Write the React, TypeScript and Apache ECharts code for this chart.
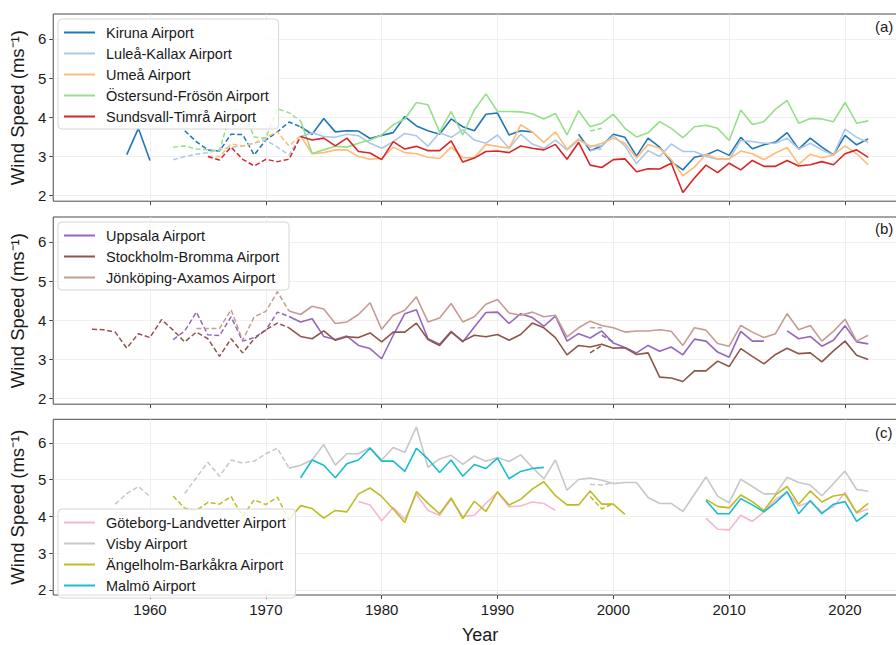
import React, { useEffect, useRef } from "react";
import * as echarts from "echarts";

type Seg = { from: number; v: (number | null)[] };

const YEAR_TICKS = [1960, 1970, 1980, 1990, 2000, 2010, 2020];
const SPEED_TICKS = [2, 3, 4, 5, 6];
const PANEL_LABELS = ["(a)", "(b)", "(c)"];

// ---------- Panel (a) ----------
const kirunaSolid: Seg[] = [
  { from: 1958, v: [3.05, 3.72, 2.9] },
  {
    from: 1973,
    v: [
      3.76, 3.57, 3.97, 3.63, 3.66, 3.65, 3.46, 3.54, 3.61, 4.02,
      3.78, 3.66, 3.57, 3.96, 3.76, 3.66, 4.08, 4.11, 3.55, 3.66,
      3.63, null, null, null, 3.57, 3.15, 3.27, 3.57, 3.49, 3.01,
      3.47, 3.24, 2.87, 2.66, 2.98, 3.04, 3.17, 3.03, 3.49, 3.2,
      3.3, 3.37, 3.61, 3.19, 3.47, 3.24, 3.04, 3.54, 3.3, 3.45,
    ],
  },
];
const kirunaDashed: Seg[] = [
  { from: 1963, v: [3.66, 3.38, 3.17, 3.14, 3.57, 3.56, 3.04, 3.42, 3.63, 3.88, 3.76] },
];

const luleaSolid: Seg[] = [
  {
    from: 1973,
    v: [
      3.51, 3.61, 3.51, 3.49, 3.57, 3.53, 3.34, 3.21, 3.38, 3.59,
      3.53, 3.26, 3.61, 3.49, 3.68, 3.42, 3.34, 3.55, 3.21, 3.57,
      3.32, 3.21, 3.42, 3.17, 3.42, 3.27, 3.27, 3.53, 3.27, 2.82,
      3.15, 3.0, 3.32, 3.13, 3.13, 3.0, 2.93, 2.93, 3.41, 3.38,
      3.34, 3.34, 3.47, 3.19, 3.34, 3.17, 3.04, 3.7, 3.49, 3.36,
    ],
  },
];
const luleaDashed: Seg[] = [
  { from: 1962, v: [2.92, 3.0, 3.06, 3.1, 3.17, 3.24, 3.27, 3.34, 3.42, 3.24, 3.04, 3.51] },
  { from: 1998, v: [3.15, 3.2] },
];

const umeaSolid: Seg[] = [
  {
    from: 1973,
    v: [
      3.53, 3.07, 3.1, 3.17, 3.17, 3.0, 2.93, 2.95, 3.24, 3.1,
      3.07, 2.98, 2.95, 3.24, 2.97, 2.97, 3.31, 3.26, 3.21, 3.81,
      3.63, 3.36, 3.63, 3.19, 3.45, 3.24, 3.34, 3.47, 3.34, 2.96,
      3.31, 3.21, 2.92, 2.51, 2.73, 3.06, 2.94, 2.94, 3.14, 3.07,
      2.92, 3.09, 3.23, 2.8, 3.06, 2.97, 3.04, 3.27, 3.07, 2.79,
    ],
  },
];
const umeaDashed: Seg[] = [
  { from: 1965, v: [3.0, 3.0, 3.32, 3.27, 3.34, 3.49, 3.63, 3.27, 3.53] },
];

const ostersundSolid: Seg[] = [
  {
    from: 1973,
    v: [
      3.91, 3.08, 3.17, 3.26, 3.24, 3.34, 3.42, 3.55, 3.81, 3.96,
      4.38, 4.32, 3.63, 4.15, 3.55, 4.19, 4.6, 4.15, 4.15, 4.14,
      4.09, 3.96, 4.1, 3.55, 4.17, 3.76, 3.85, 4.08, 3.72, 3.5,
      3.61, 3.89, 3.72, 3.48, 3.76, 3.8, 3.72, 3.41, 4.19, 3.82,
      3.89, 4.21, 4.43, 3.85, 3.97, 3.96, 3.89, 4.38, 3.85, 3.91,
    ],
  },
];
const ostersundDashed: Seg[] = [
  { from: 1962, v: [3.24, 3.27, 3.19, 3.17, 3.15, 4.17, 4.2, 3.5, 3.47, 4.22, 4.12, 3.91] },
  { from: 1998, v: [3.65, 3.72] },
];

const sundsvallSolid: Seg[] = [
  {
    from: 1973,
    v: [
      3.51, 3.42, 3.47, 3.27, 3.47, 3.13, 3.09, 2.92, 3.38, 3.19,
      3.26, 3.15, 3.15, 3.4, 2.86, 2.96, 3.13, 3.14, 3.1, 3.27,
      3.21, 3.17, 3.31, 2.93, 3.36, 2.78, 2.72, 2.92, 2.94, 2.61,
      2.69, 2.68, 2.83, 2.08, 2.45, 2.78, 2.59, 2.83, 2.66, 2.9,
      2.75, 2.75, 2.9, 2.76, 2.79, 2.87, 2.79, 3.07, 3.17, 2.98,
    ],
  },
];
const sundsvallDashed: Seg[] = [
  { from: 1965, v: [3.0, 2.91, 3.24, 2.93, 2.76, 2.93, 2.87, 2.93, 3.51] },
];

// ---------- Panel (b) ----------
const uppsalaSolid: Seg[] = [
  {
    from: 1972,
    v: [
      4.1, 3.96, 4.04, 3.59, 3.51, 3.6, 3.36, 3.28, 3.02, 3.62,
      4.17, 4.27, 3.53, 3.39, 3.72, 3.45, 3.83, 4.2, 4.21, 3.92,
      4.17, 4.07, 3.85, 4.11, 3.47, 3.66, 3.55, 3.73, 3.42, 3.31,
      3.17, 3.36, 3.21, 3.32, 3.12, 3.52, 3.47, 3.19, 3.06, 3.72,
      3.47, 3.47, null, 3.73, 3.53, 3.59, 3.34, 3.49, 3.86, 3.45, 3.4,
    ],
  },
];
const uppsalaDashed: Seg[] = [
  { from: 1962, v: [3.51, 3.73, 4.21, 3.63, 3.61, 4.09, 3.47, 3.56, 3.75, 4.21, 4.1] },
  { from: 1999, v: [3.62, 3.45] },
];

const stockholmSolid: Seg[] = [
  {
    from: 1972,
    v: [
      3.81, 3.59, 3.53, 3.73, 3.49, 3.58, 3.56, 3.68, 3.45, 3.7,
      3.7, 3.93, 3.51, 3.36, 3.7, 3.47, 3.62, 3.58, 3.64, 3.49,
      3.64, 3.93, 3.81, 3.56, 3.12, 3.36, 3.32, 3.39, 3.29, 3.3,
      3.13, 3.17, 2.55, 2.53, 2.44, 2.71, 2.71, 2.96, 2.82, 3.28,
      3.08, 2.89, 3.13, 3.29, 3.15, 3.17, 2.94, 3.22, 3.47, 3.11, 3.0,
    ],
  },
];
const stockholmDashed: Seg[] = [
  {
    from: 1955,
    v: [3.77, 3.76, 3.7, 3.29, 3.66, 3.56, 4.02, 3.75, 3.45, 3.7, 3.53, 3.08, 3.53, 3.17, 3.53, 3.76, 3.93, 3.81],
  },
  { from: 1998, v: [3.17, 3.36] },
];

const jonkopingSolid: Seg[] = [
  {
    from: 1972,
    v: [
      4.24, 4.15, 4.36, 4.29, 3.92, 3.96, 4.15, 4.45, 3.77, 4.13,
      4.26, 4.6, 3.96, 4.06, 4.43, 3.96, 4.09, 4.41, 4.53, 4.19,
      4.13, 4.21, 4.09, 4.13, 3.58, 3.81, 3.98, 3.87, 3.81, 3.7,
      3.73, 3.73, 3.76, 3.72, 3.36, 3.81, 3.75, 3.41, 3.34, 3.87,
      3.7, 3.56, 3.66, 4.17, 3.76, 3.87, 3.47, 3.72, 4.03, 3.47, 3.62,
    ],
  },
];
const jonkopingDashed: Seg[] = [
  { from: 1964, v: [3.79, 3.79, 3.79, 4.27, 3.49, 4.09, 4.23, 4.73, 4.24] },
  { from: 1998, v: [3.81, 3.81] },
];

// ---------- Panel (c) ----------
const goteborgSolid: Seg[] = [
  { from: 1978, v: [4.4, 4.31, 3.88, 4.24, 3.92, 4.6, 4.16, 4.03, 4.46, 3.99, 4.03, 4.35, 4.65, 4.26, 4.28, 4.39, 4.35, 4.16] },
  { from: 2008, v: [3.95, 3.65, 3.63, 4.03, 3.86, 4.12, 4.46, 4.65, 4.28, 4.39, 4.12, 4.26, 4.65, 4.09, 4.2] },
];
const goteborgDashed: Seg[] = [];

const visbySolid: Seg[] = [
  {
    from: 1972,
    v: [
      5.31, 5.39, 5.53, 5.95, 5.39, 5.7, 5.7, 5.87, 5.53, 5.87,
      5.74, 6.43, 5.33, 5.56, 5.66, 5.41, 5.64, 5.5, 5.6, 5.49,
      5.67, 5.33, 5.02, 5.53, 4.71, 5.0, 5.04, 4.98, 4.89, 4.92,
      4.92, 4.51, 4.35, 4.35, 4.13, 4.6, 5.07, 4.55, 4.37, 5.01,
      4.81, 4.61, 4.61, 5.06, 4.92, 4.85, 4.56, 4.89, 5.23, 4.73, 4.68,
    ],
  },
];
const visbyDashed: Seg[] = [
  { from: 1957, v: [4.33, 4.62, 4.81, 4.54] },
  { from: 1963, v: [4.62, 5.05, 5.47, 5.09, 5.53, 5.45, 5.5, 5.7, 5.85, 5.31] },
  { from: 1998, v: [4.87, 4.85, 4.92] },
];

const angelholmSolid: Seg[] = [
  {
    from: 1972,
    v: [
      3.9, 4.29, 4.21, 3.95, 4.16, 4.12, 4.61, 4.77, 4.54, 4.2,
      3.83, 4.67, 4.35, 4.07, 4.5, 3.94, 4.41, 4.13, 4.67, 4.31,
      4.46, 4.74, 4.94, 4.56, 4.31, 4.31, 4.69, 4.33, 4.33, 4.05,
    ],
  },
  { from: 2008, v: [4.46, 4.27, 4.23, 4.58, 4.4, 4.16, 4.58, 4.81, 4.33, 4.69, 4.39, 4.55, 4.6, 4.1, 4.35] },
];
const angelholmDashed: Seg[] = [
  { from: 1962, v: [4.55, 4.22, 4.16, 4.38, 4.33, 4.54, 4.0, 4.45, 4.32, 4.52, 3.9] },
  { from: 1998, v: [4.54, 4.2, 4.35] },
];

const malmoSolid: Seg[] = [
  {
    from: 1973,
    v: [5.05, 5.53, 5.39, 5.05, 5.43, 5.53, 5.85, 5.5, 5.5, 5.22, 5.85, 5.56, 5.19, 5.53, 5.09, 5.41, 5.3, 5.58, 5.02, 5.22, 5.3, 5.33],
  },
  { from: 2008, v: [4.43, 4.07, 4.07, 4.48, 4.31, 4.12, 4.37, 4.67, 4.07, 4.43, 4.07, 4.33, 4.4, 3.86, 4.09] },
];
const malmoDashed: Seg[] = [];

type Station = { name: string; color: string; solid: Seg[]; dashed: Seg[] };

const PANELS: Station[][] = [
  [
    { name: "Kiruna Airport", color: "#1f77b4", solid: kirunaSolid, dashed: kirunaDashed },
    { name: "Luleå-Kallax Airport", color: "#aec7e8", solid: luleaSolid, dashed: luleaDashed },
    { name: "Umeå Airport", color: "#ffbb78", solid: umeaSolid, dashed: umeaDashed },
    { name: "Östersund-Frösön Airport", color: "#98df8a", solid: ostersundSolid, dashed: ostersundDashed },
    { name: "Sundsvall-Timrå Airport", color: "#d62728", solid: sundsvallSolid, dashed: sundsvallDashed },
  ],
  [
    { name: "Uppsala Airport", color: "#9467bd", solid: uppsalaSolid, dashed: uppsalaDashed },
    { name: "Stockholm-Bromma Airport", color: "#8c564b", solid: stockholmSolid, dashed: stockholmDashed },
    { name: "Jönköping-Axamos Airport", color: "#c49c94", solid: jonkopingSolid, dashed: jonkopingDashed },
  ],
  [
    { name: "Göteborg-Landvetter Airport", color: "#f7b6d2", solid: goteborgSolid, dashed: goteborgDashed },
    { name: "Visby Airport", color: "#c7c7c7", solid: visbySolid, dashed: visbyDashed },
    { name: "Ängelholm-Barkåkra Airport", color: "#bcbd22", solid: angelholmSolid, dashed: angelholmDashed },
    { name: "Malmö Airport", color: "#17becf", solid: malmoSolid, dashed: malmoDashed },
  ],
];

const FONT = "'Liberation Sans', Arial, sans-serif";
const TEXT = "#1a1a1a";
const GRID_TOPS = [14, 217, 419.3];
const GRID_H = 187.2;
const LEGEND_TOPS = [19, 222, 509];
const LABEL_TOPS = [19, 221, 425];

function segData(segs: Seg[]) {
  const out: [number, number | null][] = [];
  segs.forEach((s, si) => {
    if (si > 0) out.push([s.from - 0.5, null]);
    s.v.forEach((val, i) => out.push([s.from + i, val]));
  });
  return out;
}

export default function App() {
  const ref = useRef<HTMLDivElement>(null);
  useEffect(() => {
    if (!ref.current) return;
    const chart = echarts.init(ref.current, undefined, { renderer: "svg" });

    const grid = GRID_TOPS.map((t) => ({
      left: 51.7,
      right: 13,
      top: t,
      height: GRID_H,
      show: true,
      borderColor: "#4a4a4a",
      borderWidth: 1,
      backgroundColor: "transparent",
    }));

    const xAxis = GRID_TOPS.map((_, i) => ({
      type: "value",
      gridIndex: i,
      min: 1951.65,
      max: 2025.35,
      name: i === 2 ? "Year" : "",
      nameLocation: "middle",
      nameGap: 31,
      nameTextStyle: { fontSize: 18, fontFamily: FONT, color: TEXT },
      axisLine: { show: false },
      axisTick: { show: true, length: 4, customValues: YEAR_TICKS, lineStyle: { color: "#4a4a4a" } },
      axisLabel: {
        show: i === 2,
        customValues: YEAR_TICKS,
        formatter: (v: number) => String(v),
        fontSize: 15,
        fontFamily: FONT,
        color: TEXT,
        margin: 7,
      },
      splitLine: { show: true, lineStyle: { color: "#ebebeb", width: 0.8 } },
    }));

    const yAxis = GRID_TOPS.map((_, i) => ({
      type: "value",
      gridIndex: i,
      min: 1.86,
      max: 6.638,
      name: "Wind Speed (ms⁻¹)",
      nameLocation: "middle",
      nameGap: 16,
      nameTextStyle: { fontSize: 18.5, fontFamily: FONT, color: TEXT },
      axisLine: { show: false },
      axisTick: { show: true, length: 4, customValues: SPEED_TICKS, lineStyle: { color: "#4a4a4a" } },
      axisLabel: {
        customValues: SPEED_TICKS,
        formatter: (v: number) => String(v),
        fontSize: 15,
        fontFamily: FONT,
        color: TEXT,
        margin: 7,
      },
      splitLine: { show: true, lineStyle: { color: "#ebebeb", width: 0.8 } },
    }));

    const series: any[] = [];
    PANELS.forEach((stations, pi) => {
      stations.forEach((st) => {
        if (st.dashed.length) {
          series.push({
            type: "line",
            name: st.name + " (dashed)",
            xAxisIndex: pi,
            yAxisIndex: pi,
            data: segData(st.dashed),
            symbol: "none",
            showSymbol: false,
            connectNulls: false,
            lineStyle: { color: st.color, width: 1.5, type: [5, 2.6] },
            itemStyle: { color: st.color },
            emphasis: { disabled: true },
            silent: true,
          });
        }
        series.push({
          type: "line",
          name: st.name,
          xAxisIndex: pi,
          yAxisIndex: pi,
          data: segData(st.solid),
          symbol: "none",
          showSymbol: false,
          connectNulls: false,
          lineStyle: { color: st.color, width: 1.6 },
          itemStyle: { color: st.color },
          emphasis: { disabled: true },
          silent: true,
        });
      });
    });

    const legend = PANELS.map((stations, pi) => ({
      data: stations.map((s) => s.name),
      orient: "vertical",
      left: 58,
      top: LEGEND_TOPS[pi],
      icon: "rect",
      itemWidth: 31,
      itemHeight: 2,
      itemGap: 6,
      padding: [6, 9, 5, 6],
      selectedMode: false,
      backgroundColor: "rgba(255,255,255,0.8)",
      borderColor: "#d6d6d6",
      borderWidth: 1,
      borderRadius: 4,
      textStyle: {
        fontSize: 14.5,
        fontFamily: FONT,
        color: TEXT,
        padding: [0, 0, 0, 6],
      },
    }));

    const graphic = PANEL_LABELS.map((t, i) => ({
      type: "text",
      left: 875,
      top: LABEL_TOPS[i],
      style: { text: t, fontSize: 15, fontFamily: FONT, fill: TEXT },
      z: 100,
    }));

    chart.setOption({
      animation: false,
      backgroundColor: "#ffffff",
      grid,
      xAxis,
      yAxis,
      legend,
      series,
      graphic,
    } as any);

    return () => chart.dispose();
  }, []);

  return (
    <div
      style={{
        position: "fixed",
        left: 0,
        top: 0,
        width: 896,
        height: 645,
        overflow: "hidden",
        background: "#fff",
      }}
    >
      <div ref={ref} style={{ width: 920, height: 645 }} />
    </div>
  );
}
